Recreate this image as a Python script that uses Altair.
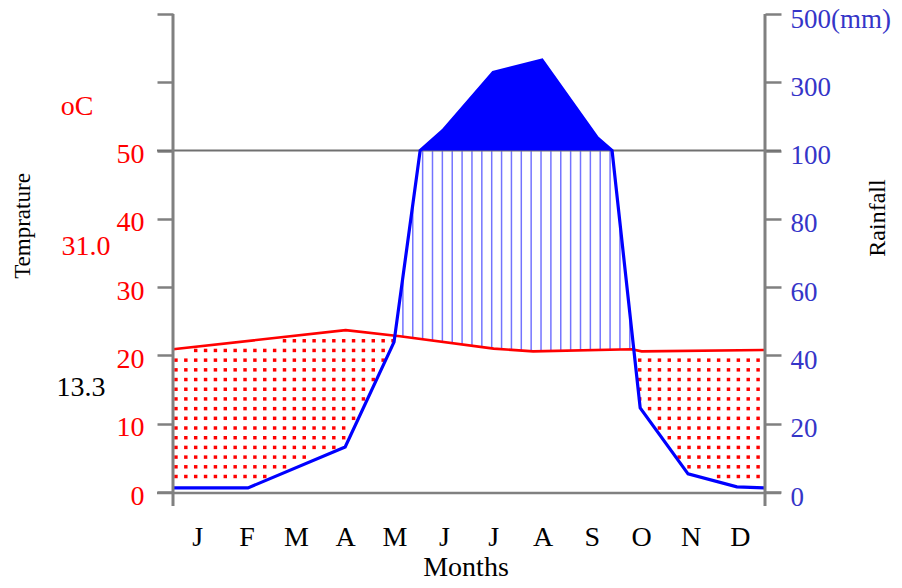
import altair as alt
import numpy as np
import pandas as pd

# ---------------- data ----------------
months = ["J", "F", "M", "A", "M", "J", "J", "A", "S", "O", "N", "D"]
# rainfall polyline (position in months from start of Jan, value in mm)
rain_pos = [0.0, 1.52, 3.49, 4.48, 5.01, 5.47, 6.49, 7.48, 8.60, 8.90, 9.47, 10.44, 11.43, 12.0]
rain_mm = [1.2, 1.2, 13.2, 43.9, 100, 159, 329, 365, 138, 100, 24.6, 5.3, 1.5, 1.2]
# temperature polyline (deg C)
temp_pos = [0.0, 3.5, 4.6, 6.5, 7.3, 9.3, 9.5, 12.0]
temp_c = [20.9, 23.7, 22.8, 21.0, 20.6, 20.9, 20.6, 20.8]
left_ticks = [0, 10, 20, 30, 40, 50, 60, 70]
right_labels = ["0", "20", "40", "60", "80", "100", "300", "500(mm)"]
abs_max = "31.0"
abs_min = "13.3"

FONT = "Liberation Serif"
GRAY = "#808080"
RED = "#ff0000"
BLUE = "#0000ff"
LBLUE = "#3535c8"

W, H = 592, 478


def to_plot(r):
    r = np.asarray(r, float)
    return np.where(r <= 100, r / 2.0, 50 + (r - 100) / 20.0)


rain_df = pd.DataFrame({"m": rain_pos, "mm": rain_mm, "v": to_plot(rain_mm)})
temp_df = pd.DataFrame({"m": temp_pos, "v": temp_c})
wet_df = rain_df[rain_df.mm >= 100].assign(base=50.0)

# hatching patterns derived from the two curves
grid_m = np.arange(0.06, 12.0, 0.2)
r_at = np.interp(grid_m, rain_pos, to_plot(rain_mm))
t_at = np.interp(grid_m, temp_pos, temp_c)
humid = r_at > t_at + 0.3
rules_df = pd.DataFrame({"m": grid_m[humid], "lo": t_at[humid],
                         "hi": np.minimum(r_at[humid], 50)})
rows = np.arange(0.85, 30, 1.42)
dots = [(m, t) for m, r, tt in zip(grid_m, r_at, t_at) for t in rows
        if r + 0.5 < t < tt - 0.5]
dots_df = pd.DataFrame(dots, columns=["m", "v"])

xs = alt.Scale(domain=[0, 12], nice=False, zero=False)
ys = alt.Scale(domain=[0, 70], nice=False, zero=False)


def X(f="m:Q", axis=None):
    return alt.X(f, scale=xs, axis=axis)


def Y(f="v:Q", axis=None):
    return alt.Y(f, scale=ys, axis=axis)


one = pd.DataFrame({"a": [0]})

x_axis = alt.Axis(values=list(range(13)), labels=False, tickSize=13, tickWidth=2.5,
                  tickColor=GRAY, domain=False, grid=False, title=None)

dots_layer = alt.Chart(dots_df).mark_square(color=RED, size=12, opacity=1).encode(
    x=X(axis=x_axis), y=Y())

hatch_layer = alt.Chart(rules_df).mark_rule(color=BLUE, strokeWidth=1.5, opacity=0.55).encode(
    x=X(), y=Y("lo:Q"), y2="hi:Q")

left_axis = alt.Axis(orient="left", values=left_ticks, tickSize=16, tickWidth=2.5,
                     tickColor=GRAY, domain=False, grid=False,
                     labelExpr="datum.value <= 50 ? datum.label : ''",
                     labelFont=FONT, labelFontSize=28, labelColor=RED,
                     labelPadding=13, labelOffset=4, labelBaseline="middle",
                     title=None)
line50 = alt.Chart(pd.DataFrame({"v": [50]})).mark_rule(color="#707070", strokeWidth=2).encode(
    x=alt.value(-16), x2=alt.value(W + 16), y=Y(axis=left_axis))

wet_layer = alt.Chart(wet_df).mark_area(color=BLUE, opacity=1, interpolate="linear").encode(
    x=X(), y=Y(), y2="base:Q")

temp_line = alt.Chart(temp_df).mark_line(color=RED, strokeWidth=2.6).encode(x=X(), y=Y())
rain_line = alt.Chart(rain_df).mark_line(color=BLUE, strokeWidth=3.2).encode(x=X(), y=Y())

lv = alt.Chart(one).mark_rule(color=GRAY, strokeWidth=3).encode(
    x=alt.value(0), y=alt.value(0), y2=alt.value(H + 14))
rv = alt.Chart(one).mark_rule(color=GRAY, strokeWidth=3).encode(
    x=alt.value(W), y=alt.value(0), y2=alt.value(H + 14))
hb = alt.Chart(one).mark_rule(color=GRAY, strokeWidth=2.5).encode(
    x=alt.value(-16), x2=alt.value(W + 16), y=alt.value(H + 1))

right_expr = "[" + ",".join("'%s'" % s for s in right_labels) + "][round(datum.value / 10)]"
right_axis = alt.Axis(orient="right", values=left_ticks, tickSize=16, tickWidth=2.5,
                      tickColor=GRAY, domain=False, grid=False, labelExpr=right_expr,
                      labelFont=FONT, labelFontSize=27, labelColor=LBLUE,
                      labelPadding=9, labelOffset=5, labelBaseline="middle",
                      title=None)
right_carrier = alt.Chart(pd.DataFrame({"v": left_ticks})).mark_point(opacity=0).encode(
    x=alt.value(0), y=Y(axis=right_axis))

month_df = pd.DataFrame({"m": np.arange(12) + 0.5, "lab": months})
month_text = alt.Chart(month_df).mark_text(font=FONT, fontSize=28, color="black",
                                           baseline="alphabetic").encode(
    x=X(), y=alt.value(H + 54), text="lab:N")


def note(txt, x, y, color, size=28, angle=0, baseline="middle"):
    return alt.Chart(one).mark_text(text=txt, font=FONT, fontSize=size, color=color,
                                    baseline=baseline, align="center", angle=angle).encode(
        x=alt.value(x), y=alt.value(y))


notes = [
    note("oC", -96, 93, RED),
    note(abs_max, -87, 233, RED),
    note(abs_min, -92, 374, "black"),
    note("Temprature", -150, 212, "black", size=23, angle=270),
    note("Rainfall", 705, 204, "black", size=24, angle=270),
    note("Months", W / 2 - 3, H + 84, "black", size=28, baseline="alphabetic"),
]

chart = alt.layer(
    dots_layer, hatch_layer, line50, wet_layer, temp_line, rain_line, lv, rv, hb,
    right_carrier, month_text, *notes
).resolve_scale(y="independent").properties(
    width=W, height=H, autosize=alt.AutoSizeParams(type="none"),
    padding={"left": 165, "top": 6, "right": 128, "bottom": 88}
).configure_view(stroke=None)

chart.save("out.html", embed_options={"renderer": "svg", "actions": False})
